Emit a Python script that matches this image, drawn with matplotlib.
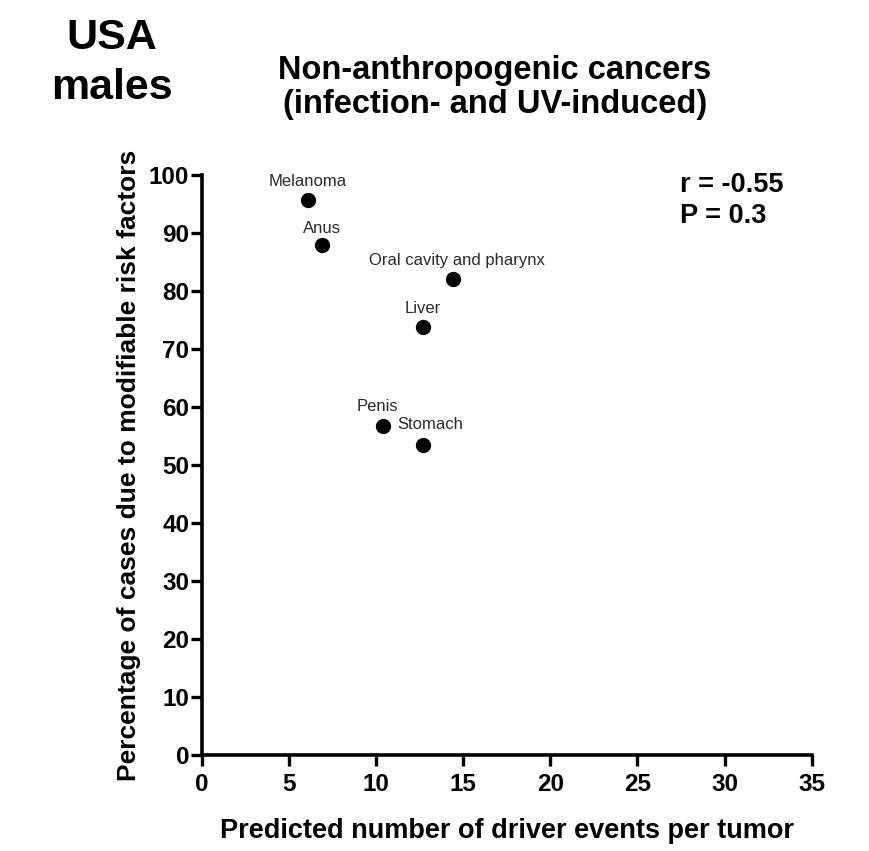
import matplotlib
matplotlib.use("Agg")
import matplotlib.pyplot as plt

plt.rcParams['font.family'] = ['Liberation Sans', 'DejaVu Sans']

# cancer sites: predicted driver events vs % of cases from modifiable risk
sites = ["Melanoma", "Anus", "Oral cavity and pharynx", "Liver", "Penis", "Stomach"]
driver_events = [6.1, 6.9, 14.4, 12.7, 10.4, 12.7]
pct_modifiable = [95.8, 87.9, 82.1, 73.9, 56.7, 53.4]
# label offsets in points (dx, dy) from each point
label_offsets = [(0, 13), (0, 12), (3, 13), (0, 13), (-4, 14), (5, 15)]

xticks = [0, 5, 10, 15, 20, 25, 30, 35]
yticks = [0, 10, 20, 30, 40, 50, 60, 70, 80, 90, 100]

fig = plt.figure(figsize=(8.7, 8.51), dpi=100)
ax = fig.add_axes([0.232, 0.113, 0.701, 0.681])

ax.scatter(driver_events, pct_modifiable, s=100, color="black", zorder=3,
           clip_on=False)
for name, x, y, (dx, dy) in zip(sites, driver_events, pct_modifiable, label_offsets):
    ax.annotate(name, (x, y), xytext=(dx, dy), textcoords="offset points",
                ha="center", va="center", fontsize=12, color="#2a2a2a")

ax.set_xlim(0, 35)
ax.set_ylim(0, 100)
ax.set_xticks(xticks)
ax.set_yticks(yticks)

for side in ("top", "right"):
    ax.spines[side].set_visible(False)
for side in ("left", "bottom"):
    ax.spines[side].set_linewidth(2.6)

ax.tick_params(axis="both", direction="out", length=8, width=2.4,
               labelsize=17.5)
ax.tick_params(axis="y", pad=1)
ax.tick_params(axis="x", pad=5)
for lbl in ax.get_xticklabels() + ax.get_yticklabels():
    lbl.set_fontweight("bold")

ax.set_xlabel("Predicted number of driver events per tumor", fontsize=19.5,
              fontweight="bold", labelpad=16)
ax.set_ylabel("Percentage of cases due to modifiable risk factors",
              fontsize=19, fontweight="bold", labelpad=6)

ax.text(0.784, 1.005, "r = -0.55\nP = 0.3", transform=ax.transAxes,
        fontsize=19.5, fontweight="bold", va="top", ha="left",
        linespacing=1.25)

fig.text(0.129, 0.926, "USA\nmales", fontsize=31, fontweight="bold",
         ha="center", va="center", linespacing=1.33)
fig.text(0.569, 0.897, "Non-anthropogenic cancers\n(infection- and UV-induced)",
         fontsize=23.5, fontweight="bold", ha="center", va="center",
         linespacing=1.15)

fig.savefig("out.png", dpi=100, facecolor="white")
